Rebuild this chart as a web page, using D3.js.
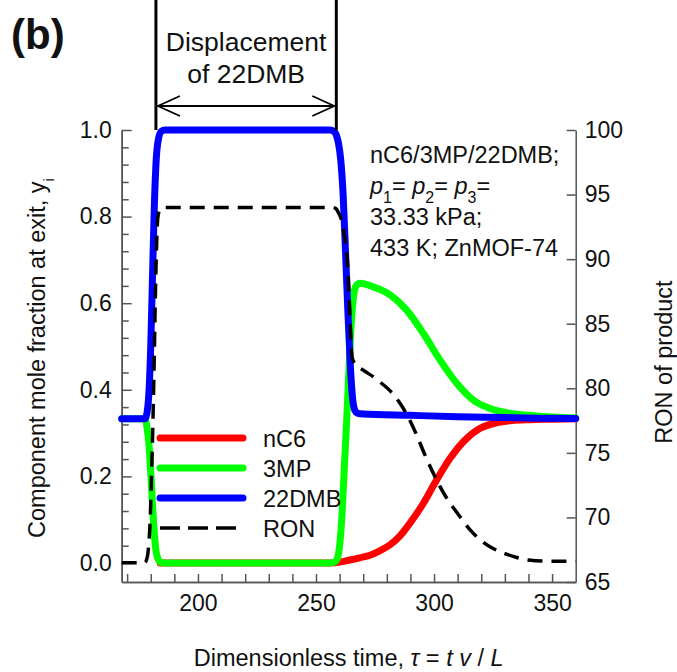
<!DOCTYPE html>
<html>
<head>
<meta charset="utf-8">
<script src="https://cdn.jsdelivr.net/npm/d3@7"></script>
<style>
  html, body { margin: 0; padding: 0; background: #fff; }
  svg { display: block; font-family: "Liberation Sans", Arial, sans-serif; }
</style>
</head>
<body>
<svg id="chart" width="677" height="672"></svg>
<script>
// ---- Breakthrough data: outlet mole fractions and RON vs dimensionless time ----
const tau22DMB = [167.7, 177.5, 178.5, 179.3, 180, 180.7, 181.5, 182.3, 183.3, 184.5, 186,
  256, 257.5, 258.5, 259.5, 260.5, 261.5, 262.5, 263.5, 264.5, 265.5, 266.5, 267.5,
  270, 290, 310, 330, 345, 360];
const y22DMB = [0.333, 0.333, 0.35, 0.40, 0.50, 0.65, 0.82, 0.93, 0.98, 0.997, 1.0,
  1.0, 0.997, 0.99, 0.97, 0.93, 0.85, 0.72, 0.58, 0.46, 0.38, 0.352, 0.346,
  0.344, 0.341, 0.338, 0.336, 0.334, 0.3335];

const tau3MP = [167.7, 177.5, 178.5, 179.3, 180, 180.7, 181.5, 182.3, 183.3, 184.5, 186,
  256, 258, 259, 260, 261, 262, 263, 264, 265, 266, 267, 268.6, 274.2, 281.4, 288.4,
  295.5, 302.5, 309.6, 316.7, 323.7, 330.8, 340, 350, 360];
const y3MP = [0.333, 0.333, 0.31, 0.27, 0.21, 0.14, 0.07, 0.025, 0.007, 0.001, 0,
  0, 0.003, 0.01, 0.04, 0.11, 0.22, 0.33, 0.45, 0.56, 0.62, 0.64, 0.646, 0.638, 0.619, 0.584,
  0.530, 0.469, 0.415, 0.376, 0.357, 0.347, 0.341, 0.337, 0.335];

const tauNC6 = [184, 256, 260, 264.4, 268.5, 272.9, 277, 281.4, 285.5, 289.8, 295.5,
  301.1, 306.8, 312.4, 319.5, 326.6, 333, 340.7, 350, 360];
const yNC6 = [0, 0, 0.002, 0.007, 0.012, 0.018, 0.028, 0.042, 0.062, 0.092, 0.138,
  0.192, 0.242, 0.280, 0.311, 0.324, 0.329, 0.331, 0.332, 0.333];

const tauRON = [167.7, 177.5, 178.5, 179.2, 179.7, 180.3, 181, 181.5, 182, 182.5, 183, 184, 186,
  257, 258.5, 259.5, 260.5, 261.4, 262.3, 262.9, 263.6, 264.1, 264.6, 265.3, 266.5,
  270, 274.2, 277, 281.4, 285, 288.4, 292.6, 296, 300, 305, 310, 315, 320, 325, 330,
  335, 340, 350, 360];
const ron = [66.5, 66.5, 66.9, 68, 69.5, 73, 78, 82.5, 87.5, 91.2, 93.2, 93.9, 94,
  94, 93.9, 93.6, 93.2, 92.5, 91.5, 90.7, 88.9, 86.8, 84.5, 82.4, 81.9,
  81.4, 80.9, 80.5, 79.8, 79.0, 78.0, 76.4, 74.9, 73.3, 71.6, 70.3, 69.1, 68.2, 67.6, 67.2,
  66.9, 66.7, 66.6, 66.6];

// Axis ticks
const xMajor = [200, 250, 300, 350];
const xMinor = [170, 180, 190, 210, 220, 230, 240, 260, 270, 280, 290, 310, 320, 330, 340];
const yMajor = [0, 0.2, 0.4, 0.6, 0.8, 1.0];
const yMinor = [0.04, 0.08, 0.12, 0.16, 0.24, 0.28, 0.32, 0.36, 0.44, 0.48, 0.52, 0.56,
  0.64, 0.68, 0.72, 0.76, 0.84, 0.88, 0.92, 0.96];
const ronTicks = [65, 70, 75, 80, 85, 90, 95, 100];

// Displacement window of 22DMB (dimensionless time)
const displacement = [182.2, 258.6];

const seriesNames = ["nC6", "3MP", "22DMB", "RON"];
const seriesColors = ["#ff0000", "#00ff00", "#0000ff", "#000000"];

const annotationLines = ["nC6/3MP/22DMB;", null, "33.33 kPa;", "433 K; ZnMOF-74"];

// ---- Layout ----
const plot = { left: 121.7, right: 575.7, top: 130, bottom: 582 };
const svg = d3.select("#chart");

const x = d3.scaleLinear().domain([167.7, 360]).range([plot.left, plot.right]);
const y = d3.scaleLinear().domain([-0.0439, 1]).range([plot.bottom, plot.top]);
const yR = d3.scaleLinear().domain([65, 100]).range([plot.bottom, plot.top]);

const axisColor = "#555";
const tickFont = 23;
const textFont = 23.5;

function styleAxis(g) {
  g.selectAll(".domain").attr("stroke", axisColor).attr("stroke-width", 1.5);
  g.selectAll(".tick line").attr("stroke", axisColor).attr("stroke-width", 1.5);
  g.selectAll(".tick text").attr("fill", "#111").style("font-size", tickFont + "px")
    .style("font-family", '"Liberation Sans", Arial, sans-serif');
}

// Left axis (mole fraction)
svg.append("g").attr("transform", `translate(${plot.left},0)`)
  .call(d3.axisLeft(y).tickValues(yMinor).tickFormat("").tickSizeInner(-7).tickSizeOuter(0))
  .call(styleAxis);
svg.append("g").attr("transform", `translate(${plot.left},0)`)
  .call(d3.axisLeft(y).tickValues(yMajor).tickFormat(d3.format(".1f"))
    .tickSizeInner(-10).tickSizeOuter(0).tickPadding(10))
  .call(styleAxis);

// Bottom axis (dimensionless time)
svg.append("g").attr("transform", `translate(0,${plot.bottom})`)
  .call(d3.axisBottom(x).tickValues(xMinor).tickFormat("").tickSizeInner(-8).tickSizeOuter(0))
  .call(styleAxis);
svg.append("g").attr("transform", `translate(0,${plot.bottom})`)
  .call(d3.axisBottom(x).tickValues(xMajor).tickFormat(d3.format("d"))
    .tickSizeInner(-8).tickSizeOuter(0).tickPadding(13))
  .call(styleAxis);

// Right axis (RON)
svg.append("g").attr("transform", `translate(${plot.right},0)`)
  .call(d3.axisRight(yR).tickValues(ronTicks).tickFormat(d3.format("d"))
    .tickSizeInner(-9).tickSizeOuter(0).tickPadding(9))
  .call(styleAxis);

// ---- Curves ----
const lineY = d3.line().x(d => x(d[0])).y(d => y(d[1])).curve(d3.curveMonotoneX);
const lineR = d3.line().x(d => x(d[0])).y(d => yR(d[1])).curve(d3.curveMonotoneX);

const curves = svg.append("g")
  .attr("fill", "none").attr("stroke-linecap", "round").attr("stroke-linejoin", "round");

curves.append("path").datum(d3.zip(tauNC6, yNC6))
  .attr("d", lineY).attr("stroke", seriesColors[0]).attr("stroke-width", 7);
curves.append("path").datum(d3.zip(tau3MP, y3MP))
  .attr("d", lineY).attr("stroke", seriesColors[1]).attr("stroke-width", 7);
curves.append("path").datum(d3.zip(tau22DMB, y22DMB))
  .attr("d", lineY).attr("stroke", seriesColors[2]).attr("stroke-width", 7);
curves.append("path").datum(d3.zip(tauRON, ron))
  .attr("d", lineR).attr("stroke", seriesColors[3]).attr("stroke-width", 3.5)
  .attr("stroke-linecap", "butt").attr("stroke-dasharray", "15 9");

// ---- Displacement window markers ----
const mark = svg.append("g").attr("stroke", "#000").attr("fill", "none");
displacement.forEach(t => {
  mark.append("line").attr("x1", x(t)).attr("x2", x(t))
    .attr("y1", 0).attr("y2", y(1)).attr("stroke-width", 3);
});
const arrowY = 106;
const xa = x(displacement[0]) + 2, xb = x(displacement[1]) - 2;
mark.append("line").attr("x1", xa).attr("x2", xb).attr("y1", arrowY).attr("y2", arrowY)
  .attr("stroke-width", 1.8);
mark.append("path").attr("stroke-width", 1.8)
  .attr("d", `M${xa + 22},${arrowY - 10}L${xa},${arrowY}L${xa + 22},${arrowY + 10}`);
mark.append("path").attr("stroke-width", 1.8)
  .attr("d", `M${xb - 22},${arrowY - 10}L${xb},${arrowY}L${xb - 22},${arrowY + 10}`);

const midX = (x(displacement[0]) + x(displacement[1])) / 2;
svg.append("text").attr("x", midX).attr("y", 51).attr("text-anchor", "middle")
  .style("font-size", "26.5px").attr("fill", "#111").text("Displacement");
svg.append("text").attr("x", midX).attr("y", 83).attr("text-anchor", "middle")
  .style("font-size", "26.5px").attr("fill", "#111").text("of 22DMB");

// ---- Panel label ----
svg.append("text").attr("x", 11).attr("y", 49)
  .style("font-size", "42px").style("font-weight", "bold").attr("fill", "#111").text("(b)");

// ---- Conditions annotation ----
const ann = svg.append("g").style("font-size", textFont + "px").attr("fill", "#111");
const annY = [163, 194, 225, 256];
annotationLines.forEach((s, i) => {
  const t = ann.append("text").attr("x", 370).attr("y", annY[i]);
  if (s !== null) { t.text(s); return; }
  [1, 2, 3].forEach((k, j) => {
    t.append("tspan").style("font-style", "italic").text((j ? " " : "") + "p");
    t.append("tspan").attr("baseline-shift", "sub").style("font-size", "16px").text(k);
    t.append("tspan").text("=");
  });
});

// ---- Legend ----
const legY = [438, 468, 498, 528];
const leg = svg.append("g");
seriesNames.forEach((name, i) => {
  const ln = leg.append("line").attr("x1", 160).attr("x2", i === 3 ? 236 : 243)
    .attr("y1", legY[i]).attr("y2", legY[i]).attr("stroke", seriesColors[i]);
  if (i === 3) ln.attr("stroke-width", 3.5).attr("stroke-dasharray", "20 8");
  else ln.attr("stroke-width", 7).attr("stroke-linecap", "round");
  leg.append("text").attr("x", 263).attr("y", legY[i] + 8.5)
    .style("font-size", textFont + "px").attr("fill", "#111").text(name);
});

// ---- Axis titles ----
const xt = svg.append("text").attr("x", (plot.left + plot.right) / 2).attr("y", 666)
  .attr("text-anchor", "middle").style("font-size", textFont + "px").attr("fill", "#111");
xt.append("tspan").text("Dimensionless time, ");
xt.append("tspan").style("font-style", "italic").text("τ");
xt.append("tspan").text(" = ");
xt.append("tspan").style("font-style", "italic").text("t v");
xt.append("tspan").text(" / ");
xt.append("tspan").style("font-style", "italic").text("L");

const ylt = svg.append("text").attr("transform", `translate(45,${(plot.top + plot.bottom) / 2 + 2}) rotate(-90)`)
  .attr("text-anchor", "middle").style("font-size", textFont + "px").attr("fill", "#111");
ylt.append("tspan").text("Component mole fraction at exit, y");
ylt.append("tspan").attr("baseline-shift", "sub").style("font-size", "15px").text("i");

svg.append("text").attr("transform", `translate(672,${(plot.top + plot.bottom) / 2 + 6}) rotate(-90)`)
  .attr("text-anchor", "middle").style("font-size", textFont + "px").attr("fill", "#111")
  .text("RON of product");
</script>
</body>
</html>
